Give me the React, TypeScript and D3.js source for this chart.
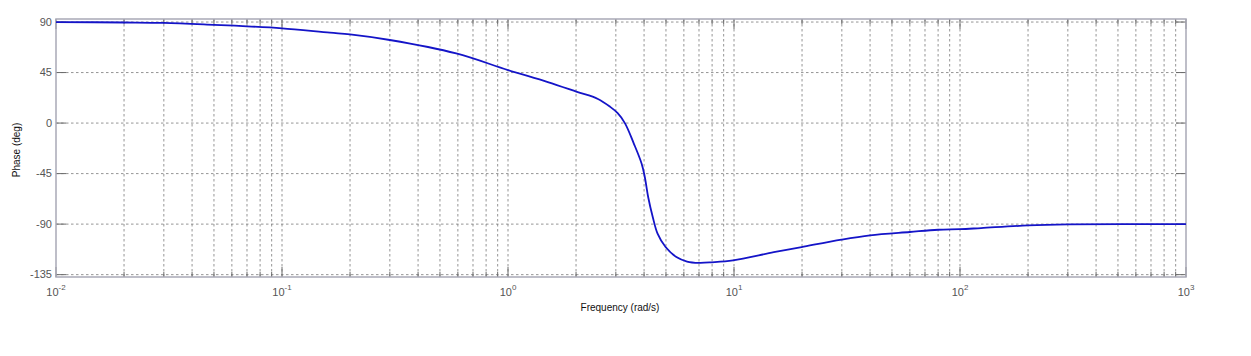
import React from "react";
import * as d3 from "d3";

const freqs = [0.01, 0.02, 0.03, 0.05, 0.07, 0.1, 0.163, 0.2, 0.3, 0.59, 1.0, 1.5, 2.02, 2.5, 2.83, 3.05, 3.29, 3.6, 3.9, 4.03, 4.17, 4.37, 4.59, 4.98, 5.56, 6.2, 7.0, 8.0, 9.9, 15, 19.9, 29.9, 40, 60, 80, 100, 124, 200, 300, 1000];
const phases = [90, 89.6, 89.2, 87.5, 86.2, 84.4, 80.5, 79, 74, 62, 47.2, 36.5, 27.8, 21.5, 14.5, 9, 0, -18, -36, -48, -65.8, -83.6, -98.5, -110.4, -119.3, -123.3, -124.5, -124, -122.3, -115, -110.4, -103.8, -100, -97, -95, -94.5, -93.5, -91.2, -90.3, -90];
const yTicks = [-135, -90, -45, 0, 45, 90];
const decadeExps = [-2, -1, 0, 1, 2, 3];

const W = 1251, H = 356;
const L = 56, R = 1186, T = 19, B = 277;

export default function App() {
  const x = d3.scaleLog().domain([0.01, 1000]).range([L, R]);
  const y = d3.scaleLinear().domain([-137.1, 92.7]).range([B, T]);
  const data = freqs.map((f, i) => [f, phases[i]] as [number, number]);
  const line = d3.line<[number, number]>().x(d => x(d[0])).y(d => y(d[1])).curve(d3.curveCatmullRom.alpha(0.5));

  const minor: number[] = [];
  for (let e = -2; e < 3; e++) for (let k = 2; k <= 9; k++) minor.push(k * Math.pow(10, e));
  const major = decadeExps.map(e => Math.pow(10, e));
  const gridC = "#7a7a7a";
  const axC = "#a9a9b6";
  const tickC = "#6a6a6a";
  const font = "'Liberation Sans', Arial, sans-serif";

  return (
    <svg width={W} height={H} style={{ position: "absolute", left: 0, top: 0, background: "#fff" }}>
      {[...minor, ...major].filter(f => f > 0.01 && f < 1000).map((f, i) => (
        <line key={"vg" + i} x1={x(f)} x2={x(f)} y1={T} y2={B} stroke={gridC} strokeWidth={0.8} strokeDasharray="2.5,2.5" />
      ))}
      {yTicks.map((t, i) => (
        <line key={"hg" + i} x1={L} x2={R} y1={y(t)} y2={y(t)} stroke={gridC} strokeWidth={0.8} strokeDasharray="2.5,2.5" />
      ))}
      {major.map((f, i) => (
        <g key={"mt" + i}>
          <line x1={x(f)} x2={x(f)} y1={B} y2={B - 10} stroke={tickC} strokeWidth={1} />
          <line x1={x(f)} x2={x(f)} y1={T} y2={T + 10} stroke={tickC} strokeWidth={1} />
        </g>
      ))}
      {minor.map((f, i) => (
        <g key={"mn" + i}>
          <line x1={x(f)} x2={x(f)} y1={B} y2={B - 5} stroke={tickC} strokeWidth={1} />
          <line x1={x(f)} x2={x(f)} y1={T} y2={T + 5} stroke={tickC} strokeWidth={1} />
        </g>
      ))}
      {yTicks.map((t, i) => (
        <g key={"yt" + i}>
          <line x1={L} x2={L + 10} y1={y(t)} y2={y(t)} stroke={tickC} strokeWidth={1} />
          <line x1={R} x2={R - 10} y1={y(t)} y2={y(t)} stroke={tickC} strokeWidth={1} />
          <text x={L - 4} y={y(t)} dy="0.35em" textAnchor="end" fontFamily={font} fontSize={11} fill="#555">{t}</text>
        </g>
      ))}
      <rect x={L} y={T} width={R - L} height={B - T} fill="none" stroke={axC} strokeWidth={1.5} />
      <path d={line(data) || ""} fill="none" stroke="#1414c8" strokeWidth={1.8} />
      {decadeExps.map((e, i) => (
        <text key={"xl" + i} x={x(Math.pow(10, e))} y={296} textAnchor="middle" fontFamily={font} fontSize={11} fill="#555">
          10<tspan dy={-6} fontSize={8}>{e}</tspan>
        </text>
      ))}
      <text x={620} y={311} textAnchor="middle" fontFamily={font} fontSize={10} fill="#111">Frequency  (rad/s)</text>
      <text transform={`translate(20,150) rotate(-90)`} textAnchor="middle" fontFamily={font} fontSize={10} fill="#111">Phase (deg)</text>
    </svg>
  );
}
